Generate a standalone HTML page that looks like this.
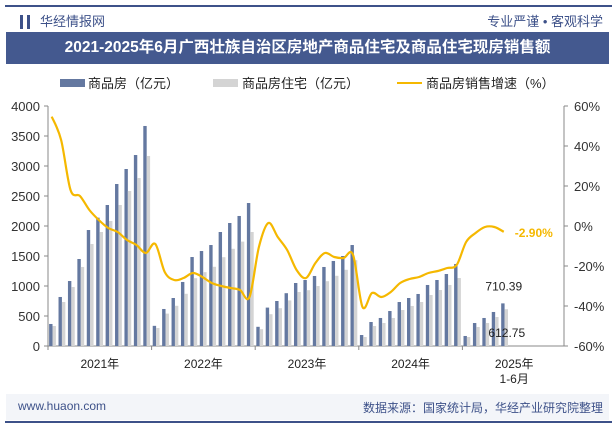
<!DOCTYPE html>
<html><head><meta charset="utf-8"><style>
html,body{margin:0;padding:0;background:#fff;width:615px;height:427px;overflow:hidden}
body{font-family:"Liberation Sans","Noto Sans CJK SC",sans-serif;position:relative}
.abs{position:absolute}
</style></head><body>
<div class="abs" style="left:5px;top:5px;width:607px;height:2px;background:#3d5189"></div>
<div class="abs" style="left:20px;top:15px;width:10px;height:14px;border-left:3px solid #3d5189;border-right:3px solid #3d5189;box-sizing:border-box"></div>
<div class="abs" style="left:40px;top:11px;font-size:13px;color:#3d5189">华经情报网</div>
<div class="abs" style="right:12px;top:11px;font-size:13px;color:#3d5189">专业严谨 • 客观科学</div>
<div class="abs" style="left:6px;top:32px;width:603px;height:32px;background:#44598f;color:#fff;font-weight:bold;font-size:15.5px;line-height:32px;text-align:center">2021-2025年6月广西壮族自治区房地产商品住宅及商品住宅现房销售额</div>
<svg class="abs" style="left:0;top:0" width="615" height="427" id="chart"></svg>
<div class="abs" style="left:6px;top:394px;width:603px;height:26px;background:#f3f5f9"></div>
<div class="abs" style="left:18px;top:399px;font-size:12px;color:#3d5189">www.huaon.com</div>
<div class="abs" style="right:12px;top:399px;font-size:12px;color:#3d5189">数据来源：国家统计局，华经产业研究院整理</div>
<div class="abs" style="left:5px;top:421px;width:607px;height:2px;background:#3d5189"></div>
<script>
const yearLabels=["2021年","2022年","2023年","2024年","2025年"];
const leftTicks=[0,500,1000,1500,2000,2500,3000,3500,4000];
const rightTicks=[-60,-40,-20,0,20,40,60];
const commercial=[367,817,1083,1450,1933,2139,2350,2700,2950,3183,3667,
336,617,800,1067,1483,1583,1683,1900,2050,2167,2383,
320,640,750,880,1050,1100,1167,1317,1417,1500,1683,
183,400,467,583,733,800,867,1017,1100,1200,1367,
167,383,467,567,710.39];
const residential=[333,733,983,1317,1700,1900,2083,2350,2583,2800,3167,
300,540,670,870,1130,1230,1320,1480,1620,1740,1900,
280,530,630,760,900,930,1000,1080,1170,1270,1430,
150,333,383,467,600,667,733,850,933,1017,1133,
150,317,383,483,612.75];
const growth=[54.7,43,18,15,8,3,-1,-3,-7,-9.5,-13.5,
-9,-23,-27,-26,-23.5,-25.5,-28.5,-30,-31,-32,-35.5,
-10.5,1.5,-5.5,-12,-22,-26,-18.5,-13.5,-15.5,-16,-14.5,
-40.5,-33.5,-35.5,-33,-28.5,-26.5,-25.5,-23.5,-22.5,-21,-19.5,
-8,-3.5,-0.5,-0.5,-2.9];
const NS="http://www.w3.org/2000/svg";
const svg=document.getElementById('chart');
const X0=48,X1=566,Y0=346,Y1=106,N=55;
const slot=(X1-X0)/N;
const xc=i=>X0+slot*(i+0.5);
const yL=v=>Y0-(v/4000)*(Y0-Y1);
const yR=v=>Y0-((v+60)/120)*(Y0-Y1);
function mk(t,a,txt){const e=document.createElementNS(NS,t);for(const k in a)e.setAttribute(k,a[k]);if(txt!==undefined)e.textContent=txt;svg.appendChild(e);return e;}
// axes
let e=mk('line',{x1:X0,y1:Y0,x2:X1,y2:Y0,stroke:'#888','stroke-width':1});


e=mk('line',{x1:X1-2,y1:Y1,x2:X1-2,y2:Y0,stroke:'#888','stroke-width':1});


e=mk('line',{x1:X0,y1:Y1,x2:X0,y2:Y0,stroke:'#888','stroke-width':1});


leftTicks.forEach(v=>{
 mk('line',{x1:X0-4,x2:X0,y1:yL(v),y2:yL(v),stroke:'#888'});
 e=mk('text',{x:X0-8,y:yL(v)+5,'text-anchor':'end','font-size':13,fill:'#333'},v);
 
 
});
rightTicks.forEach(v=>{
 mk('line',{x1:X1-2,x2:X1+2,y1:yR(v),y2:yR(v),stroke:'#888'});
 e=mk('text',{x:X1+8,y:yR(v)+5,'font-size':13,fill:'#333'},v+'%');
 
 
});
yearLabels.forEach((l,k)=>{
 const xs=X0+k*11*slot;
 mk('line',{x1:xs,x2:xs,y1:Y0,y2:Y0+4,stroke:'#888'});
 e=mk('text',{x:xs+5.5*slot,y:368,'text-anchor':'middle','font-size':12,fill:'#222'},l);
 
 
});
e=mk('text',{x:X0+49.5*slot,y:383,'text-anchor':'middle','font-size':12,fill:'#222'},'1-6月');


// bars
commercial.forEach((v,i)=>{
 const b=mk('rect',{x:xc(i)-3.6,y:yL(v),width:3.4,height:Y0-yL(v),fill:'#6478a0'});
 
 
});
residential.forEach((v,i)=>{
 const b=mk('rect',{x:xc(i)-0.2,y:yL(v),width:3.4,height:Y0-yL(v),fill:'#d4d4d4'});
 
 
});
// smooth line
const pts=growth.map((v,i)=>[xc(i)-1,yR(v)]);
let d='M'+pts[0][0]+','+pts[0][1];
for(let i=0;i<pts.length-1;i++){
 const p0=pts[i-1]||pts[i],p1=pts[i],p2=pts[i+1],p3=pts[i+2]||p2;
 const c1=[p1[0]+(p2[0]-p0[0])/6,p1[1]+(p2[1]-p0[1])/6];
 const c2=[p2[0]-(p3[0]-p1[0])/6,p2[1]-(p3[1]-p1[1])/6];
 d+=` C${c1[0]},${c1[1]} ${c2[0]},${c2[1]} ${p2[0]},${p2[1]}`;
}
e=mk('path',{d:d,fill:'none',stroke:'#f5b800','stroke-width':2.2});


const last=growth.length-1;
e=mk('text',{x:xc(last)+10,y:yR(growth[last])+5,'font-size':12,'font-weight':'bold',fill:'#f5b800'},growth[last].toFixed(2)+'%');


e=mk('text',{x:xc(last)-1,y:yL(commercial[last])-13,'text-anchor':'middle','font-size':12,fill:'#222'},commercial[last].toFixed(2));


e=mk('text',{x:xc(last)+2,y:337,'text-anchor':'middle','font-size':12,fill:'#222'},residential[last].toFixed(2));


// legend
e=mk('rect',{x:60,y:79,width:25,height:8,fill:'#6478a0'});


e=mk('text',{x:88,y:88,'font-size':13,fill:'#222'},'商品房（亿元）');


e=mk('rect',{x:213,y:79,width:25,height:8,fill:'#d4d4d4'});


e=mk('text',{x:242,y:88,'font-size':13,fill:'#222'},'商品房住宅（亿元）');


e=mk('line',{x1:397,x2:422,y1:83,y2:83,stroke:'#f5b800','stroke-width':2});


e=mk('text',{x:426,y:88,'font-size':13,fill:'#222'},'商品房销售增速（%）');


</script>
</body></html>
